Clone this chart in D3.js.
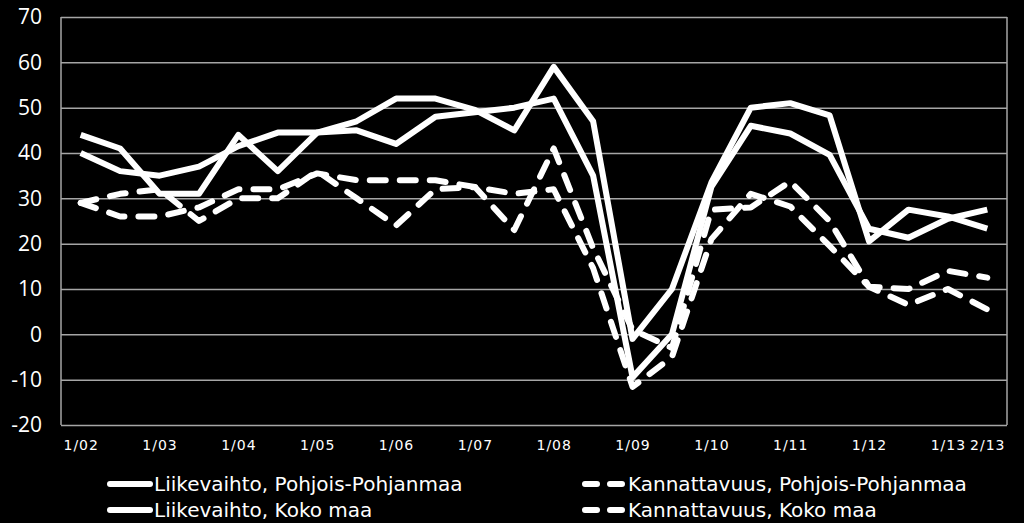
<!DOCTYPE html>
<html>
<head>
<meta charset="utf-8">
<script src="https://cdn.jsdelivr.net/npm/d3@7"></script>
<style>
body { margin: 0; background: #000; }
svg { display: block; }
</style>
</head>
<body>
<svg></svg>
<script>
// half-year periods
var categories = ['1/02','2/02','1/03','2/03','1/04','2/04','1/05','2/05','1/06','2/06','1/07','2/07',
                  '1/08','2/08','1/09','2/09','1/10','2/10','1/11','2/11','1/12','2/12','1/13','2/13'];
var tickLabels = ['1/02','1/03','1/04','1/05','1/06','1/07','1/08','1/09','1/10','1/11','1/12','1/13','2/13'];
var yTicks = [-20, -10, 0, 10, 20, 30, 40, 50, 60, 70];

var liikevaihtoPP = [44, 41, 31, 31, 44, 36, 44.5, 45, 42, 48, 49, 50,
                     52, 35, -9.5, 0, 32.5, 46, 44.3, 39.6, 23.3, 21.3, 25.5, 27.5];
var liikevaihtoKoko = [40, 36, 35, 37, 41.5, 44.5, 44.5, 47, 52, 52, 49.5, 45,
                       59, 47, -1, 10, 33.5, 50, 51, 48.3, 20.5, 27.5, 26, 23.3];
var kannattavuusPP = [29, 31, 32, 25, 30, 30, 36, 30, 24, 32, 32.5, 23,
                      41, 19, 1, -3, 27.5, 28, 33.7, 25, 10.5, 10, 14, 12.5];
var kannattavuusKoko = [29, 26, 26, 28, 32, 32, 35.5, 34, 34, 34, 32.5, 31,
                        32, 14.6, -11.6, -5, 21, 31, 28.2, 19.5, 10.5, 6.5, 10, 5.5];

var seriesNames = ['Liikevaihto, Pohjois-Pohjanmaa', 'Liikevaihto, Koko maa',
                   'Kannattavuus, Pohjois-Pohjanmaa', 'Kannattavuus, Koko maa'];

var svgWidth = 1024, svgHeight = 523;
var plotLeft = 61, plotRight = 1007, plotTop = 17, plotBottom = 425;
var dash = '16,14';

var svg = d3.select('svg')
  .attr('width', svgWidth)
  .attr('height', svgHeight)
  .style('background', '#000');

var xScale = d3.scalePoint()
  .domain(categories)
  .range([plotLeft, plotRight])
  .padding(0.5);

var yScale = d3.scaleLinear()
  .domain([-20, 70])
  .range([plotBottom, plotTop]);

// gridlines + y labels (plain hyphen for negatives)
var yAxis = d3.axisLeft(yScale)
  .tickValues(yTicks)
  .tickFormat(function(d){ return String(d); })
  .tickSize(-(plotRight - plotLeft))
  .tickPadding(19);

var gy = svg.append('g')
  .attr('transform', 'translate(' + plotLeft + ',0)')
  .call(yAxis);
gy.select('.domain').remove();
gy.selectAll('line').attr('stroke', '#a6a6a6').attr('stroke-width', 1.5);
gy.selectAll('text')
  .attr('fill', '#fff')
  .style('font-family', '"Open Sans", sans-serif')
  .style('font-size', '21px');

// plot border (left / right)
svg.append('line')
  .attr('x1', plotLeft).attr('x2', plotLeft).attr('y1', plotTop).attr('y2', plotBottom)
  .attr('stroke', '#a6a6a6').attr('stroke-width', 1.5);
svg.append('line')
  .attr('x1', plotRight).attr('x2', plotRight).attr('y1', plotTop).attr('y2', plotBottom)
  .attr('stroke', '#a6a6a6').attr('stroke-width', 1.5);

var xAxis = d3.axisBottom(xScale)
  .tickValues(tickLabels)
  .tickSize(0)
  .tickPadding(15);

var gx = svg.append('g')
  .attr('transform', 'translate(0,' + plotBottom + ')')
  .call(xAxis);
gx.select('.domain').remove();
gx.selectAll('text')
  .attr('fill', '#fff')
  .style('font-family', '"DejaVu Sans", sans-serif')
  .style('font-size', '14px')
  .style('letter-spacing', '1px');

var line = d3.line()
  .x(function(d, i){ return xScale(categories[i]); })
  .y(function(d){ return yScale(d); });

var series = [
  { values: kannattavuusKoko, dashed: true },
  { values: kannattavuusPP, dashed: true },
  { values: liikevaihtoPP, dashed: false },
  { values: liikevaihtoKoko, dashed: false }
];

svg.selectAll('path.series')
  .data(series)
  .enter()
  .append('path')
  .attr('class', 'series')
  .attr('d', function(d){ return line(d.values); })
  .attr('fill', 'none')
  .attr('stroke', '#fff')
  .attr('stroke-width', 6)
  .attr('stroke-linejoin', 'round')
  .attr('stroke-linecap', function(d){ return d.dashed ? 'round' : 'butt'; })
  .attr('stroke-dasharray', function(d){ return d.dashed ? dash : null; });

// legend
var legendItems = [
  { name: seriesNames[0], x: 108, y: 484, dashed: false },
  { name: seriesNames[1], x: 108, y: 510, dashed: false },
  { name: seriesNames[2], x: 582, y: 484, dashed: true },
  { name: seriesNames[3], x: 582, y: 510, dashed: true }
];

var lg = svg.selectAll('g.legend')
  .data(legendItems)
  .enter()
  .append('g')
  .attr('class', 'legend')
  .attr('transform', function(d){ return 'translate(' + d.x + ',' + d.y + ')'; });

lg.append('line')
  .attr('x1', function(d){ return d.dashed ? 3 : 2; })
  .attr('x2', 42)
  .attr('stroke', '#fff')
  .attr('stroke-width', 6)
  .attr('stroke-linecap', 'round')
  .attr('stroke-dasharray', function(d){ return d.dashed ? '12,13' : null; });

lg.append('text')
  .attr('x', 46)
  .attr('dy', '0.35em')
  .attr('fill', '#fff')
  .style('font-family', '"DejaVu Sans", sans-serif')
  .style('font-size', '20px')
  .text(function(d){ return d.name; });
</script>
</body>
</html>
